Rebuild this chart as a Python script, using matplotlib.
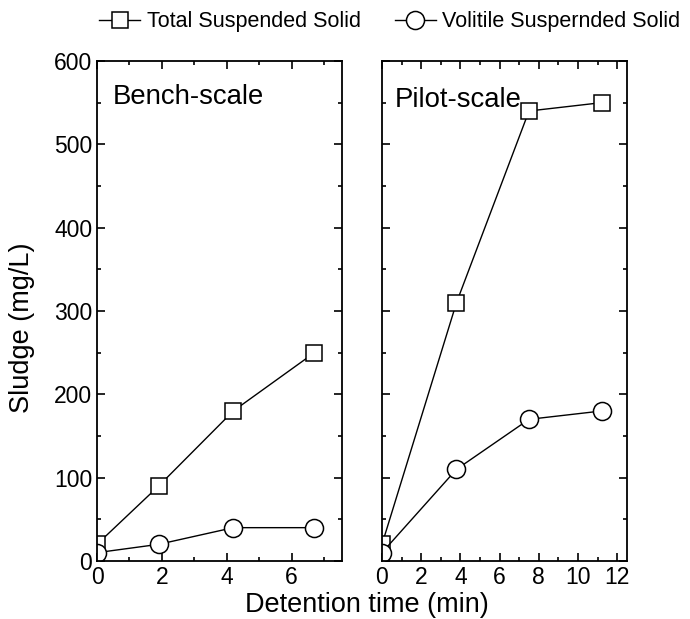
import matplotlib
matplotlib.use("Agg")
import matplotlib.pyplot as plt
from matplotlib.ticker import MultipleLocator

plt.rcParams['font.family'] = ['Liberation Sans', 'DejaVu Sans']

# bench-scale data
bench_time = [0, 1.9, 4.2, 6.7]
bench_tss = [20, 90, 180, 250]
bench_vss = [10, 20, 40, 40]

# pilot-scale data
pilot_time = [0, 3.8, 7.5, 11.2]
pilot_tss = [20, 310, 540, 550]
pilot_vss = [10, 110, 170, 180]

W, H = 690, 619
fig = plt.figure(figsize=(W / 100, H / 100), dpi=100)

ax1 = fig.add_axes([97 / W, 1 - 561 / H, 245 / W, 500 / H])
ax2 = fig.add_axes([382 / W, 1 - 561 / H, 245 / W, 500 / H])

style_tss = dict(color='black', lw=1, marker='s', ms=11.3, mfc='white', mec='black', mew=1.1)
style_vss = dict(color='black', lw=1, marker='o', ms=13, mfc='white', mec='black', mew=1.1)

l1, = ax1.plot(bench_time, bench_tss, label='Total Suspended Solid', **style_tss)
l2, = ax1.plot(bench_time, bench_vss, label='Volitile Suspernded Solid', **style_vss)
ax2.plot(pilot_time, pilot_tss, **style_tss)
ax2.plot(pilot_time, pilot_vss, **style_vss)

for ax in (ax1, ax2):
    ax.set_ylim(0, 600)
    ax.yaxis.set_major_locator(MultipleLocator(100))
    ax.yaxis.set_minor_locator(MultipleLocator(50))
    ax.xaxis.set_minor_locator(MultipleLocator(1))
    ax.tick_params(which='both', direction='in', top=True, right=True,
                   width=1.2, labelsize=16.5)
    ax.tick_params(which='major', length=6)
    ax.tick_params(which='minor', length=3)
    for sp in ax.spines.values():
        sp.set_linewidth(1.3)

ax1.set_xlim(0, 7.55)
ax1.xaxis.set_major_locator(MultipleLocator(2))
ax2.set_xlim(0, 12.5)
ax2.xaxis.set_major_locator(MultipleLocator(2))
ax2.tick_params(labelleft=False)

ax1.text(0.065, 0.928, 'Bench-scale', transform=ax1.transAxes, fontsize=19.8, va='center')
ax2.text(0.053, 0.922, 'Pilot-scale', transform=ax2.transAxes, fontsize=19.8, va='center')

fig.text(22 / W, 1 - 328 / H, 'Sludge (mg/L)', fontsize=19.5, rotation=90,
         ha='center', va='center')
fig.text(367 / W, 1 - 605 / H, 'Detention time (min)', fontsize=19.5, ha='center', va='center')

fig.legend(handles=[l1, l2], loc='center', bbox_to_anchor=(0.565, 1 - 22 / H), ncol=2,
           frameon=False, fontsize=15.5, handlelength=1.9, handletextpad=0.3,
           columnspacing=1.6, borderaxespad=0)

fig.savefig('out.png', dpi=100)
